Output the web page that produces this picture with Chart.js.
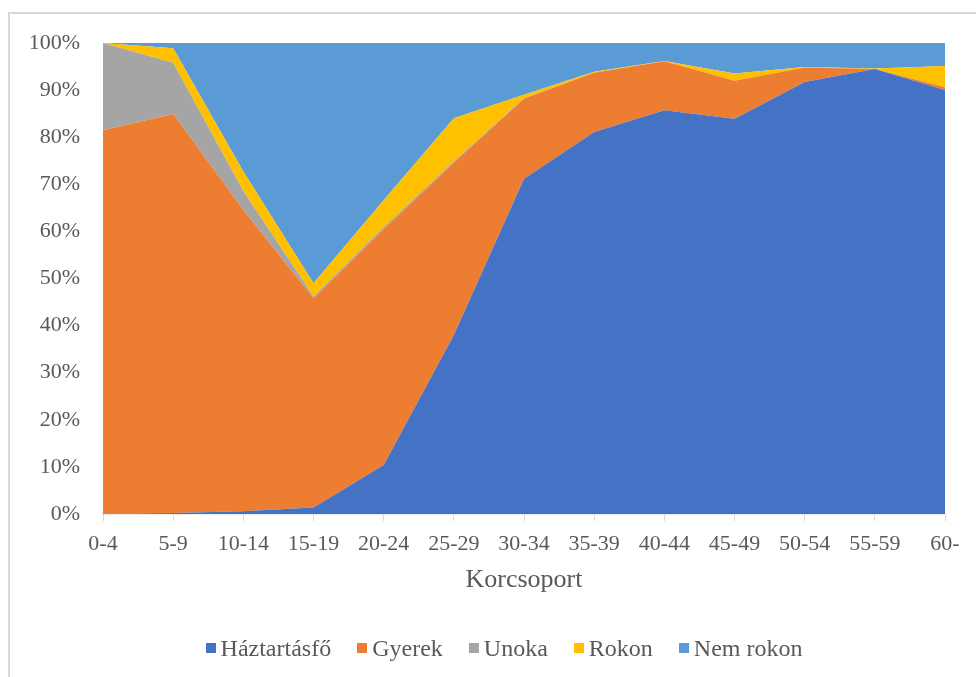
<!DOCTYPE html>
<html>
<head>
<meta charset="utf-8">
<title>Korcsoport</title>
<script src="https://cdn.jsdelivr.net/npm/chart.js@4.4.0/dist/chart.umd.min.js"></script>
<style>
  html, body { margin: 0; padding: 0; background: #fff; }
  #wrap { position: relative; width: 976px; height: 677px; overflow: hidden; }
  /* the grey border of the excel chart area */
  #frame { position: absolute; left: 8px; top: 12px; width: 1000px; height: 700px; border: 2px solid #d9d9d9; }
  #myChart { position: absolute; left: 0; top: 0; }
  #legend { position: absolute; left: 0; top: 634px; width: 1008px; display: flex; justify-content: center;
            font-family: 'Liberation Serif', 'Times New Roman', serif; font-size: 24px; color: #595959; line-height: 28px; }
  #legend span.item { display: inline-flex; align-items: center; margin: 0 13px; }
  #legend span.box { display: inline-block; width: 10px; height: 10px; margin-right: 5px; }
</style>
</head>
<body>
<div id="wrap">
  <div id="frame"></div>
  <canvas id="myChart" width="976" height="677"></canvas>
  <div id="legend"></div>
</div>
<script>
// age groups on the x axis
var categories = ['0-4', '5-9', '10-14', '15-19', '20-24', '25-29', '30-34', '35-39', '40-44', '45-49', '50-54', '55-59', '60-']

// share of each role in the age group (%)
var haztartasfo = [0, 0.2, 0.6, 1.4, 10.4, 38.0, 71.2, 81.1, 85.7, 83.9, 91.7, 94.5, 90.0]
var gyerek      = [81.5, 84.7, 64.0, 44.4, 50.1, 36.6, 17.0, 12.6, 10.4, 8.1, 3.1, 0, 0.6]
var unoka       = [18.5, 10.9, 4.0, 0.4, 0.4, 0.3, 0.1, 0, 0, 0, 0, 0, 0]
var rokon       = [0, 3.1, 4.1, 2.8, 5.7, 9.1, 0.7, 0.2, 0.1, 1.5, 0.1, 0.1, 4.5]
var nemRokon    = [0, 1.1, 27.3, 51.0, 33.4, 16.0, 11.0, 6.1, 3.8, 6.5, 5.1, 5.4, 4.9]

// y axis ticks
var yTicks = [0, 10, 20, 30, 40, 50, 60, 70, 80, 90, 100]

const FONT = "'Liberation Serif', 'Times New Roman', serif"
const TEXT = '#595959'

// one filled area per role, each stacked on the one below
function area(label, data, color, fill) {
  return {
    label: label,
    data: data,
    backgroundColor: color,
    borderColor: color,
    borderWidth: 0,
    pointRadius: 0,
    tension: 0,
    fill: fill
  }
}

// legend written as html so the box sits close to the text like in excel
function buildLegend(chart) {
  var html = ''
  chart.data.datasets.forEach(function (ds) {
    html += '<span class="item"><span class="box" style="background:' + ds.backgroundColor + '"></span>' + ds.label + '</span>'
  })
  document.getElementById('legend').innerHTML = html
}

function drawChart() {
  var ctx = document.getElementById('myChart').getContext('2d')
  var chart = new Chart(ctx, {
    type: 'line',
    data: {
      labels: categories,
      datasets: [
        area('Háztartásfő', haztartasfo, '#4472C4', 'origin'),
        area('Gyerek', gyerek, '#ED7D31', '-1'),
        area('Unoka', unoka, '#A5A5A5', '-1'),
        area('Rokon', rokon, '#FFC000', '-1'),
        area('Nem rokon', nemRokon, '#5B9BD5', '-1')
      ]
    },
    options: {
      responsive: false,
      animation: false,
      layout: { padding: { top: 43, right: 31, bottom: 81, left: 0 } },
      plugins: {
        tooltip: { enabled: false },
        legend: { display: false }
      },
      scales: {
        x: {
          offset: false,
          grid: { drawOnChartArea: false, color: '#d9d9d9', tickLength: 7 },
          border: { color: '#d9d9d9', width: 1.5 },
          ticks: { color: TEXT, font: { family: FONT, size: 22 }, maxRotation: 0, autoSkip: false, padding: 10 },
          title: { display: true, text: 'Korcsoport', color: TEXT, font: { family: FONT, size: 26 }, padding: { top: 4, bottom: 0 } },
          afterFit: function (scale) { scale.height = 82 }
        },
        y: {
          stacked: true,
          min: 0,
          max: 100,
          grid: { display: false, drawTicks: false },
          border: { display: false },
          afterBuildTicks: function (scale) { scale.ticks = yTicks.map(function (v) { return { value: v } }) },
          ticks: {
            color: TEXT,
            font: { family: FONT, size: 22 },
            padding: 23,
            callback: function (v) { return v + '%' }
          },
          afterFit: function (scale) { scale.width = 103 }
        }
      }
    }
  })
  buildLegend(chart)
}

drawChart()
</script>
</body>
</html>
